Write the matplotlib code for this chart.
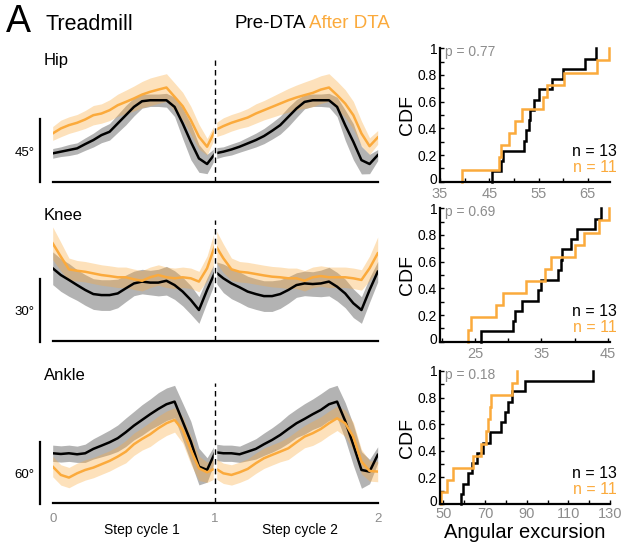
import numpy as np
import matplotlib
matplotlib.use("Agg")
import matplotlib.pyplot as plt
from matplotlib.transforms import ScaledTranslation

plt.rcParams['font.family'] = ['Liberation Sans', 'DejaVu Sans']

W, H = 624, 543
ORANGE = '#FBAA3C'
GRAY_TXT = '#8c8c8c'

# sample grid along the two step cycles (0..2, every 0.05)
t = np.arange(41) * 0.05

# joint angles (deg above the panel baseline)
hip_pre = [20.5, 21.7, 22.9, 24.1, 27.2, 30.1, 33.7, 36.1, 42.1, 48.1, 54.1, 58.2, 58.9, 58.9, 58.9,
           54.1, 42.1, 28.9, 16.8, 12.8, 20.5, 21.7, 23.3, 25.3, 27.7, 30.1, 33.0, 36.8, 40.9, 46.9,
           52.9, 57.7, 58.9, 58.9, 58.9, 54.1, 40.9, 28.9, 15.6, 12.8, 19.2]
hip_pre_sd = [3.5, 3.5, 4, 4, 4.5, 5, 5.5, 6, 6.5, 7, 6.5, 5, 4.5, 4.5, 5, 7, 11, 13, 10, 7, 4,
              3.5, 4, 4, 4.5, 5, 5.5, 6, 6.5, 7, 6.5, 5, 4.5, 4.5, 5, 7, 11, 13, 10, 7, 4]
hip_post = [34.9, 38.5, 40.9, 42.6, 45.0, 48.1, 49.3, 51.7, 55.3, 57.7, 60.2, 63.0, 65.0, 66.6, 68.1,
            61.4, 54.6, 44.5, 32.5, 25.3, 37.3, 40.2, 42.6, 44.5, 46.4, 49.3, 51.7, 54.1, 56.5, 58.9,
            60.9, 62.6, 64.2, 66.6, 68.1, 62.6, 56.5, 48.1, 34.9, 25.7, 32.0]
hip_post_sd = [5, 6, 6, 6, 6.5, 7, 7, 7.5, 8, 8.5, 9, 9.5, 10, 10, 10, 10, 10, 10, 9, 6, 5,
               6, 6, 6, 6.5, 7, 7, 7.5, 8, 8.5, 9, 9.5, 10, 10, 10, 10, 10, 10, 9, 6, 5]

knee_pre = [35.4, 32.1, 29.7, 27.2, 24.8, 22.8, 22.3, 22.3, 23.1, 25.6, 28.0, 28.9, 28.4, 28.4, 29.3,
            27.2, 24.0, 19.9, 15.0, 24.8, 33.7, 30.5, 28.0, 26.1, 24.0, 22.8, 21.8, 21.8, 22.8, 24.8,
            27.2, 28.0, 27.7, 28.0, 28.9, 26.4, 23.1, 18.3, 15.0, 24.8, 33.7]
knee_pre_sd = [8, 8, 8, 7.5, 7.5, 7.5, 7.5, 7.5, 7, 6.5, 6, 6, 6, 6.5, 7, 7, 7, 7, 6.5, 6, 5,
               7, 7.5, 7.5, 7.5, 7.5, 7.5, 7.5, 7, 6.5, 6, 6, 6, 6.5, 7, 7, 7, 7, 6.5, 6, 5]
knee_post = [47.6, 41.1, 34.9, 34.2, 33.7, 32.9, 32.1, 31.6, 31.0, 31.0, 30.0, 29.3, 31.0, 32.1, 31.0,
             30.5, 31.0, 30.5, 28.9, 35.4, 46.8, 40.3, 34.9, 33.7, 33.3, 32.6, 31.9, 31.3, 31.0, 30.5,
             30.5, 29.3, 31.0, 31.6, 31.0, 31.0, 31.0, 30.5, 29.7, 35.4, 42.7]
knee_post_sd = [8, 7, 5.5, 5, 5, 5, 5, 5, 5, 5, 5, 5, 5, 5, 5, 5, 5, 5, 5, 6, 8,
                7, 5.5, 5, 5, 5, 5, 5, 5, 5, 5, 5, 5, 5, 5, 5, 5, 5, 5, 6, 8]

ankle_pre = [49.2, 48.5, 49.2, 48.2, 49.2, 53.5, 56.7, 60.0, 64.0, 69.9, 76.4, 82.0, 87.6, 92.8, 97.4,
             100.0, 80.4, 60.7, 36.1, 32.8, 50.2, 49.2, 49.2, 48.2, 50.8, 53.5, 58.1, 62.3, 67.2, 73.1,
             78.7, 83.0, 87.6, 91.8, 97.4, 100.0, 81.0, 57.4, 32.8, 31.2, 47.6]
ankle_pre_sd = [8, 8, 8, 8, 9, 10, 11, 12, 13, 14, 14, 15, 15, 16, 16, 16, 18, 20, 18, 12, 8,
                8, 8, 8, 9, 10, 11, 12, 13, 14, 14, 15, 15, 16, 16, 16, 18, 20, 18, 12, 8]
ankle_post = [36.1, 27.9, 25.3, 29.5, 32.8, 35.1, 38.4, 41.7, 45.9, 50.8, 58.1, 63.3, 67.9, 73.8, 78.7,
              82.0, 72.2, 52.5, 34.4, 30.5, 34.4, 29.5, 27.9, 30.5, 33.8, 39.4, 44.3, 47.6, 50.8, 54.1,
              60.0, 65.6, 68.9, 73.1, 78.7, 83.6, 78.7, 65.6, 41.0, 31.8, 31.2]
ankle_post_sd = [10, 10, 10, 10, 10, 10, 10, 10, 10, 11, 11, 11, 12, 12, 12, 12, 13, 14, 12, 10, 10,
                 10, 10, 10, 10, 10, 10, 10, 10, 11, 11, 11, 12, 12, 12, 12, 13, 14, 12, 10, 10]

# per-animal angular excursions (deg) for the CDFs
hip_exc_pre = [45.5, 47.3, 47.8, 52.0, 52.5, 53.0, 53.3, 54.0, 55.0, 57.7, 60.0, 64.5, 66.7]
hip_exc_post = [39.5, 47.0, 47.3, 49.0, 50.3, 51.7, 56.0, 56.7, 60.1, 66.8, 69.2]
knee_exc_pre = [25.9, 30.75, 31.0, 32.0, 34.5, 35.0, 37.5, 37.9, 38.1, 39.5, 40.4, 43.0, 43.9]
knee_exc_post = [23.9, 24.4, 28.1, 29.25, 32.75, 35.5, 36.5, 40.0, 41.35, 43.65, 45.1]
ankle_exc_pre = [58.5, 59.6, 62.0, 63.6, 66.3, 68.9, 72.4, 77.7, 79.6, 81.2, 82.8, 89.2, 122.0]
ankle_exc_post = [48.7, 51.6, 54.8, 64.0, 67.9, 70.5, 71.6, 72.4, 72.7, 82.8, 85.2]
p_values = ['0.77', '0.69', '0.18']


def box(l, tp, r, b):
    return [l / W, 1 - b / H, (r - l) / W, (b - tp) / H]


def ftxt(x, y, s, **kw):
    fig.text(x / W, 1 - y / H, s, **kw)


fig = plt.figure(figsize=(W / 100, H / 100), dpi=100)

ftxt(6, 22, 'A', fontsize=27, va='center', ha='left')
ftxt(46, 24, 'Treadmill', fontsize=15.5, va='center', ha='left')
ftxt(306, 24, 'Pre-DTA', fontsize=13.5, va='center', ha='right')
ftxt(309, 24, 'After DTA', fontsize=13.5, va='center', ha='left', color=ORANGE)

traces = [
    ('Hip', hip_pre, hip_pre_sd, hip_post, hip_post_sd, 45, 88, (60, 181.7), 60.7),
    ('Knee', knee_pre, knee_pre_sd, knee_post, knee_post_sd, 30, 59, (220, 340.7), 215),
    ('Ankle', ankle_pre, ankle_pre_sd, ankle_post, ankle_post_sd, 60, 118, (383.3, 503.3), 375.7),
]

for i, (name, pre, pre_sd, post, post_sd, bar, ytop, (top, bot), ty) in enumerate(traces):
    ax = fig.add_axes(box(52.7, top, 377.7, bot))
    pre = np.array(pre); pre_sd = np.array(pre_sd)
    post = np.array(post); post_sd = np.array(post_sd)
    ax.fill_between(t, pre - pre_sd, pre + pre_sd, color='#9a9a9a', alpha=0.75, lw=0)
    ax.plot(t, pre, color='k', lw=1.8)
    ax.fill_between(t, post - post_sd, post + post_sd, color=ORANGE, alpha=0.35, lw=0)
    ax.plot(t, post, color=ORANGE, lw=1.8)
    ax.axvline(1, color='white', lw=2.5)
    ax.axvline(1, color='k', lw=1, ls=(0, (4, 3)))
    ax.set_xlim(0, 2)
    ax.set_ylim(0, ytop)
    for s in ['top', 'right', 'left']:
        ax.spines[s].set_visible(False)
    ax.spines['bottom'].set_linewidth(1.6)
    ax.tick_params(length=0)
    ax.set_yticks([])
    # scale bar
    ax.plot([-0.078, -0.078], [-0.5, bar], color='k', lw=1.6, clip_on=False)
    ax.text(-0.112, bar * 0.46, '%d°' % bar, ha='right', va='center', fontsize=9.5)
    ftxt(44, ty, name, fontsize=12, va='center', ha='left')
    if i == 2:
        ax.set_xticks([0, 1, 2])
        ax.set_xticklabels(['0', '1', '2'], color=GRAY_TXT, fontsize=9.5)
        ax.tick_params(axis='x', pad=7)
        ax.text(0.55, -26, 'Step cycle 1', ha='center', va='center', fontsize=10)
        ax.text(1.52, -26, 'Step cycle 2', ha='center', va='center', fontsize=10)
    else:
        ax.set_xticks([])

cdfs = [
    (hip_exc_pre, hip_exc_post, (35, 69.5), [35, 45, 55, 65], [40, 50, 60], (48.3, 181.7)),
    (knee_exc_pre, knee_exc_post, (19.75, 45.3), [25, 35, 45], [20, 30, 40], (208.3, 341.7)),
    (ankle_exc_pre, ankle_exc_post, (48.4, 130), [50, 70, 90, 110, 130], [60, 80, 100, 120], (371, 504)),
]

for i, (pre, post, xl, maj, mnr, (top, bot)) in enumerate(cdfs):
    ax = fig.add_axes(box(440, top, 610, bot))
    for vals, col in [(pre, 'k'), (post, ORANGE)]:
        v = np.sort(vals)
        n = len(v)
        xs = np.repeat(v, 2)
        ys = np.repeat(np.arange(n + 1) / n, 2)[1:-1]
        ax.plot(xs, ys, color=col, lw=1.8, clip_on=False, solid_joinstyle='miter')
    ax.set_xlim(*xl)
    ax.set_ylim(0, 1)
    for s in ['top', 'right']:
        ax.spines[s].set_visible(False)
    for s in ['left', 'bottom']:
        ax.spines[s].set_linewidth(1.6)
    ax.set_yticks([0, 0.2, 0.4, 0.6, 0.8, 1])
    ax.set_yticklabels(['0', '0.2', '0.4', '0.6', '0.8', '1'], fontsize=10)
    ax.set_yticks(np.arange(1, 10) / 10, minor=True)
    ax.set_xticks(maj)
    ax.set_xticklabels([str(m) for m in maj], color=GRAY_TXT, fontsize=10.5)
    ax.set_xticks(mnr, minor=True)
    ax.tick_params(which='both', direction='in', length=3, width=1)
    ax.tick_params(axis='y', pad=2)
    ax.tick_params(axis='x', pad=4 if i < 2 else 2)
    # nudge the y "0" up a touch so it clears the first x label
    zero = ax.get_yticklabels()[0]
    zero.set_transform(zero.get_transform() + ScaledTranslation(0, 2.5 / 72, fig.dpi_scale_trans))
    ax.set_ylabel('CDF', fontsize=14, labelpad=1)
    ax.text(0.03, 0.97, 'p = ' + p_values[i], transform=ax.transAxes, color=GRAY_TXT,
            fontsize=10, ha='left', va='center')
    ax.text(1.04, 0.23, 'n = 13', transform=ax.transAxes, fontsize=11.5, ha='right', va='center')
    ax.text(1.04, 0.11, 'n = 11', transform=ax.transAxes, fontsize=11.5, ha='right', va='center',
            color=ORANGE)

ftxt(525, 532, 'Angular excursion', fontsize=14.5, ha='center', va='center')

fig.savefig('out.png', dpi=100)
